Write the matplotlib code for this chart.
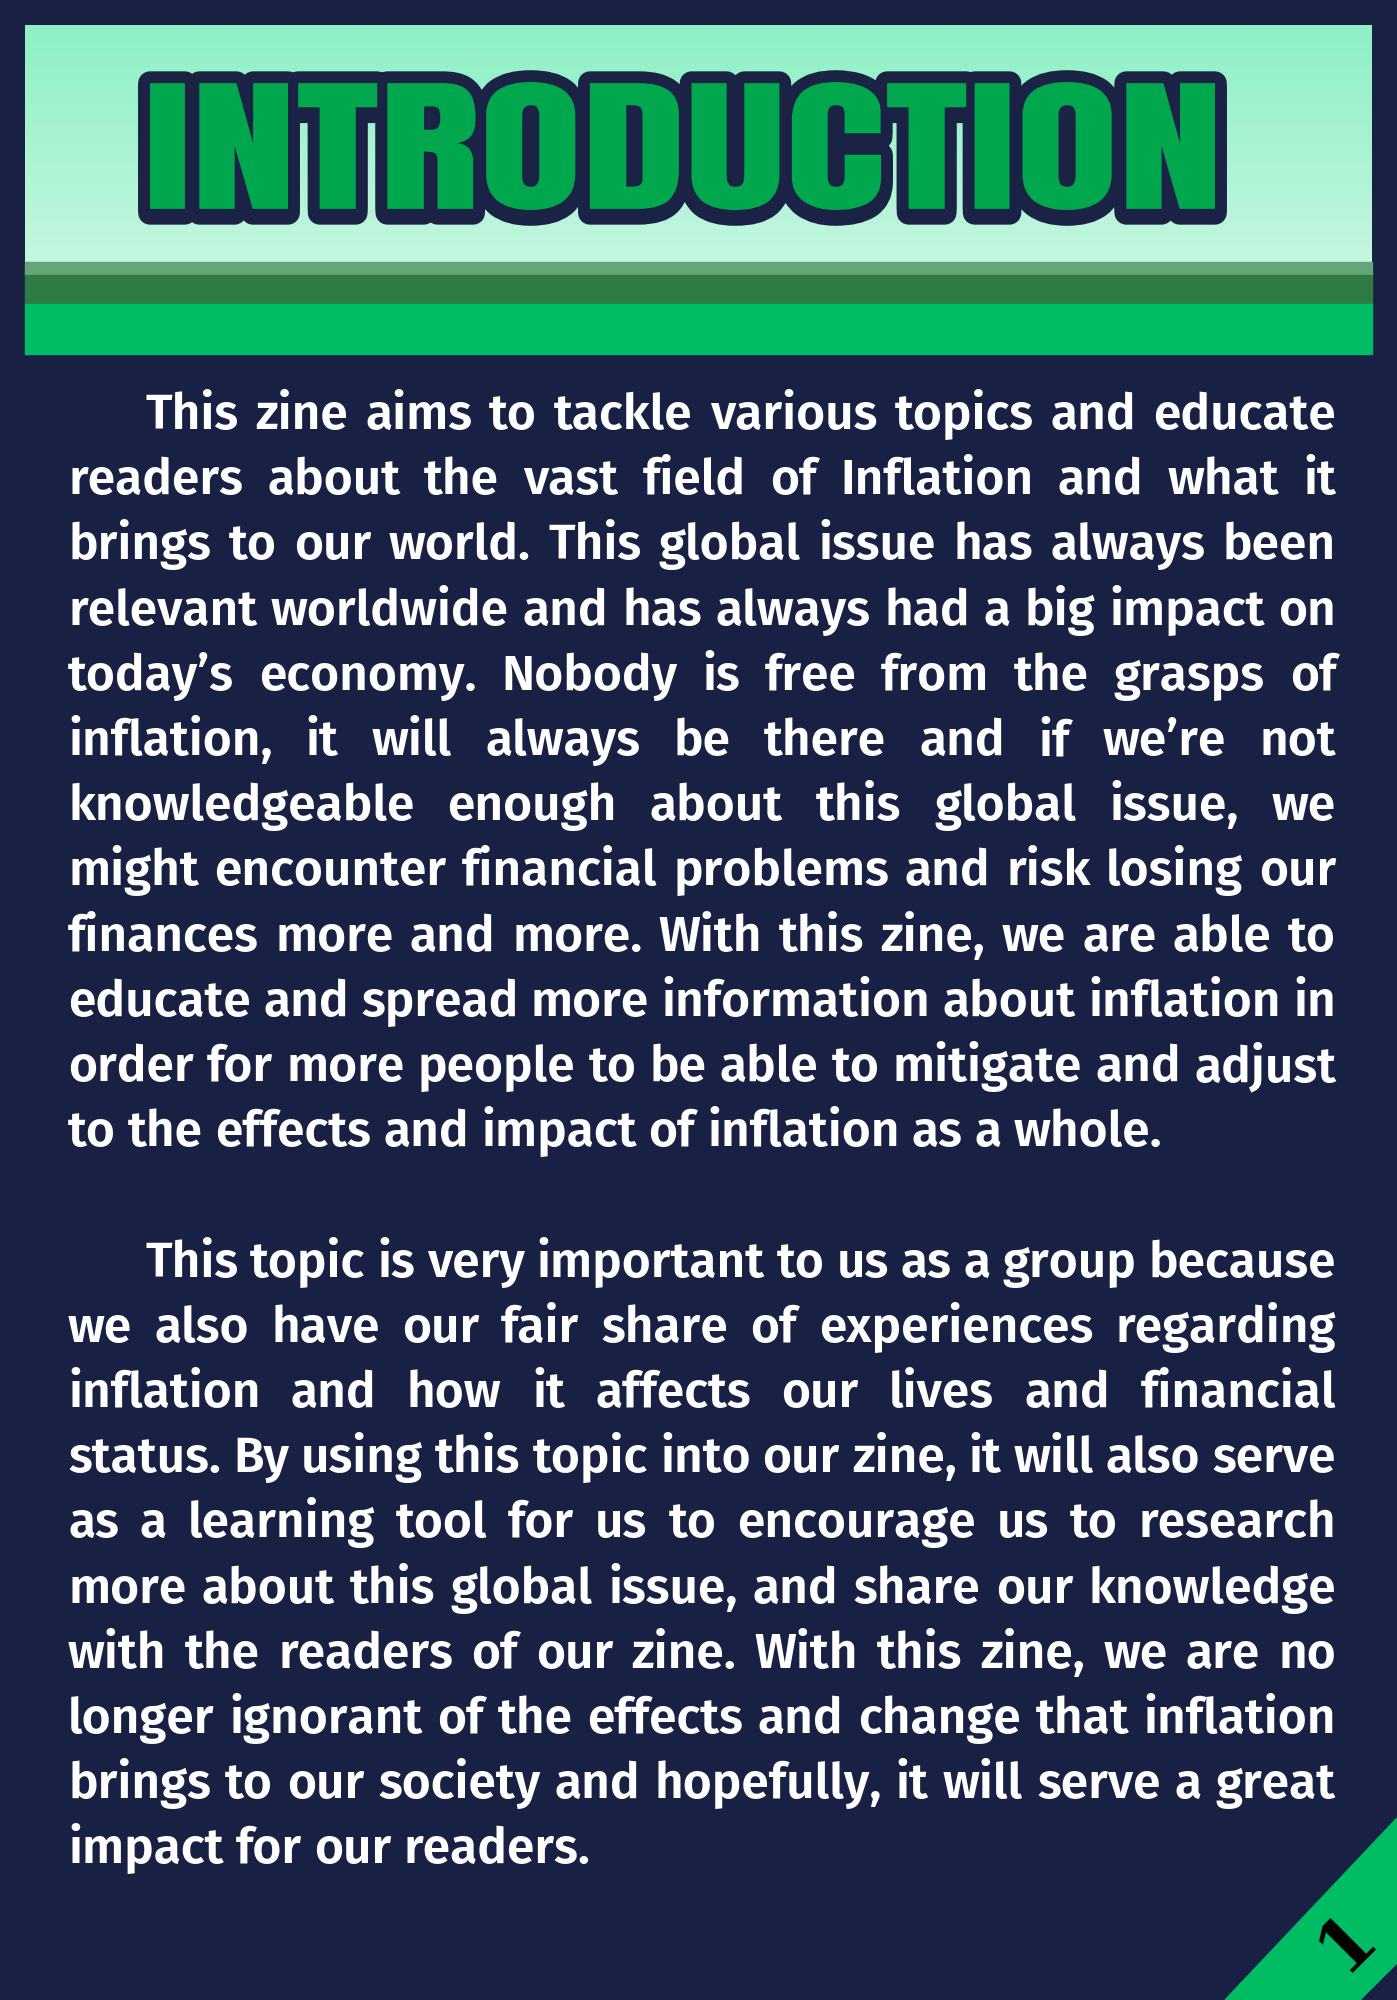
import numpy as np
import matplotlib
matplotlib.use("Agg")
import matplotlib.pyplot as plt
from matplotlib.patches import Rectangle, Polygon, PathPatch
from matplotlib.textpath import TextPath
from matplotlib.font_manager import FontProperties
from matplotlib.transforms import Affine2D
from matplotlib.colors import LinearSegmentedColormap

title = "INTRODUCTION"
page_number = "1"

para1 = [
    "This zine aims to tackle various topics and educate",
    "readers about the vast field of Inflation and what it",
    "brings to our world. This global issue has always been",
    "relevant worldwide and has always had a big impact on",
    "today\u2019s economy. Nobody is free from the grasps of",
    "inflation, it will always be there and if we\u2019re not",
    "knowledgeable enough about this global issue, we",
    "might encounter financial problems and risk losing our",
    "finances more and more. With this zine, we are able to",
    "educate and spread more information about inflation in",
    "order for more people to be able to mitigate and adjust",
    "to the effects and impact of inflation as a whole.",
]
para2 = [
    "This topic is very important to us as a group because",
    "we also have our fair share of experiences regarding",
    "inflation and how it affects our lives and financial",
    "status. By using this topic into our zine, it will also serve",
    "as a learning tool for us to encourage us to research",
    "more about this global issue, and share our knowledge",
    "with the readers of our zine. With this zine, we are no",
    "longer ignorant of the effects and change that inflation",
    "brings to our society and hopefully, it will serve a great",
    "impact for our readers.",
]

NAVY = "#182044"
W, H = 1397, 2000

fig = plt.figure(figsize=(W / 100, H / 100), dpi=100)
fig.patch.set_facecolor(NAVY)
ax = fig.add_axes([0, 0, 1, 1])
ax.set_xlim(0, W)
ax.set_ylim(H, 0)
ax.axis("off")
ax.set_facecolor(NAVY)

# header block
grad = LinearSegmentedColormap.from_list("hdr", ["#8DF0C4", "#C4F6E0"])
ax.imshow(np.linspace(0, 1, 200).reshape(-1, 1), cmap=grad, aspect="auto",
          extent=(25, 1372, 263, 25), zorder=1)
ax.add_patch(Rectangle((25, 262), 1347, 13, color="#63A677", zorder=2))
ax.add_patch(Rectangle((25, 275), 1347, 29, color="#2F7B45", zorder=2))
ax.add_patch(Rectangle((25, 304), 1347, 50, color="#00BC62", zorder=2))

# title drawn as a path squeezed into its box
fp = FontProperties(family=["Anton", "DejaVu Sans"], weight="bold")
tp = TextPath((0, 0), title, size=100, prop=fp)
bb = tp.get_extents()
x0, x1, ytop, ybot = 150, 1215, 82, 210
sx = (x1 - x0) / bb.width
sy = (ybot - ytop) / bb.height
tr = Affine2D().translate(-bb.x0, -bb.y0).scale(sx, -sy).translate(x0, ybot)
title_path = tr.transform_path(tp)
shadow = Affine2D().translate(0, 4).transform_path(title_path)
ax.add_patch(PathPatch(shadow, facecolor="#1A2246", edgecolor="#1A2246",
                       lw=17, joinstyle="round", zorder=3))
ax.add_patch(PathPatch(title_path, facecolor="#00A74D", edgecolor="#1A2246",
                       lw=17, joinstyle="round", zorder=4))
ax.add_patch(PathPatch(title_path, facecolor="#00A74D", edgecolor="none",
                       zorder=5))

# justified body text
left, right, indent = 68, 1336, 145
base0, step = 429, 65.2
font = dict(family=["Fira Sans", "Open Sans"], weight="semibold", color="white")

fig.canvas.draw()
renderer = fig.canvas.get_renderer()

# size the font so the last line of paragraph one has its natural width
probe = ax.text(0, 0, para1[-1], fontsize=30, **font)
fs = 30 * 1096 / probe.get_window_extent(renderer).width
probe.remove()
font["fontsize"] = fs


def text_width(s):
    t = ax.text(0, 0, s, **font)
    w = t.get_window_extent(renderer).width
    t.remove()
    return w


space = text_width("a a") - text_width("aa")


def draw_line(text, y, start, justify):
    words = text.split(" ")
    widths = [text_width(w) for w in words]
    if justify and len(words) > 1:
        gap = (right - start - sum(widths)) / (len(words) - 1)
    else:
        gap = space
    x = start
    for word, w in zip(words, widths):
        ax.text(x, y, word, va="baseline", ha="left", **font)
        x += w + gap


row = 0
for para in (para1, para2):
    for k, line in enumerate(para):
        start = indent if k == 0 else left
        draw_line(line, base0 + row * step, start, k < len(para) - 1)
        row += 1
    row += 1

# page corner
ax.add_patch(Polygon([(1225, 2000), (1397, 1818), (1397, 1963), (1360, 2000)],
                     closed=True, color="#00BC62", zorder=2))
ax.text(1346, 1942, page_number, rotation=45, ha="center", va="center",
        fontsize=52, fontweight="bold", family=["Roboto Slab", "DejaVu Serif"],
        color="black", zorder=3, rotation_mode="anchor")

fig.savefig("out.png", dpi=100, facecolor=NAVY)
